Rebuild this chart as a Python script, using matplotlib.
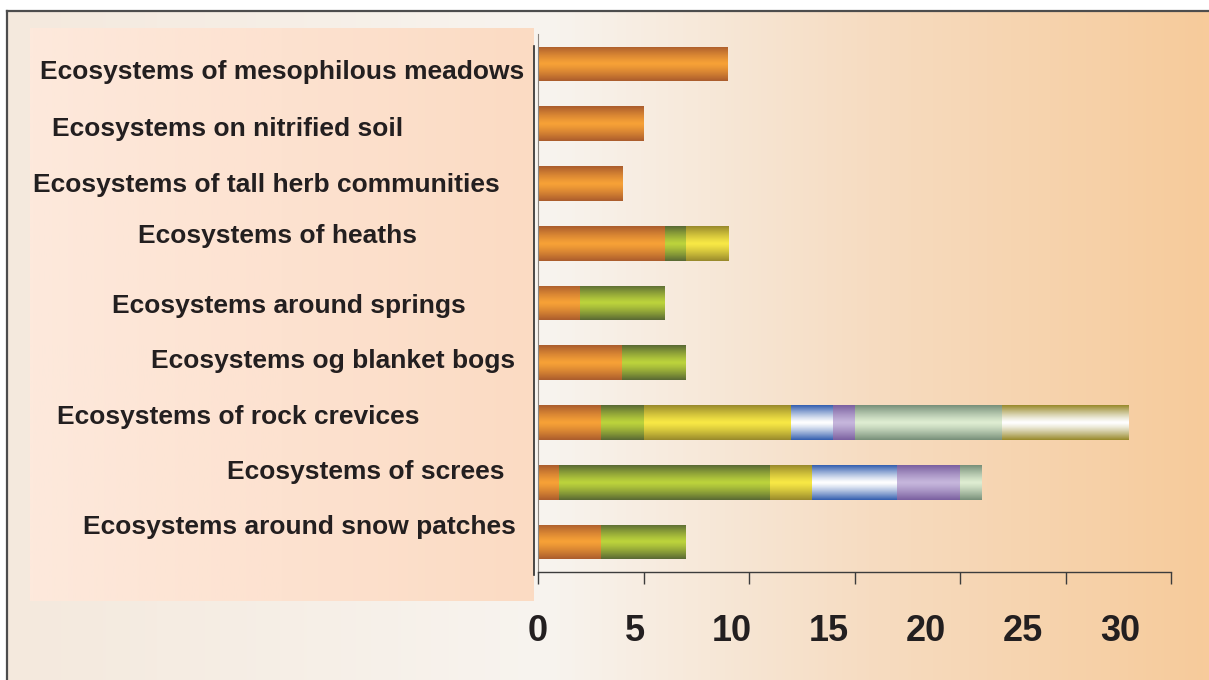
import matplotlib
matplotlib.use("Agg")
import matplotlib.pyplot as plt
import numpy as np
from matplotlib.colors import to_rgb, LinearSegmentedColormap
from matplotlib.lines import Line2D

plt.rcParams['font.family'] = ['Liberation Sans', 'DejaVu Sans']

# categories, top to bottom as in the picture
categories = ["Ecosystems of mesophilous meadows",
              "Ecosystems on nitrified soil",
              "Ecosystems of tall herb communities",
              "Ecosystems of heaths",
              "Ecosystems around springs",
              "Ecosystems og blanket bogs",
              "Ecosystems of rock crevices",
              "Ecosystems of screes",
              "Ecosystems around snow patches"]

s_orange = [9, 5, 4, 6, 2, 4, 3, 1, 3]
s_green  = [0, 0, 0, 1, 4, 3, 2, 10, 4]
s_yellow = [0, 0, 0, 2, 0, 0, 7, 2, 0]
s_blue   = [0, 0, 0, 0, 0, 0, 2, 4, 0]
s_purple = [0, 0, 0, 0, 0, 0, 1, 3, 0]
s_mint   = [0, 0, 0, 0, 0, 0, 7, 1, 0]
s_white  = [0, 0, 0, 0, 0, 0, 6, 0, 0]
series = [s_orange, s_green, s_yellow, s_blue, s_purple, s_mint, s_white]

xticks = [0, 5, 10, 15, 20, 25, 30]

# (edge colour, centre colour) for the shaded bars
shades = [("#ab5d2d", "#f7a137"),
          ("#5a6a34", "#bcd33c"),
          ("#998a2c", "#f8e845"),
          ("#3560b0", "#ffffff"),
          ("#7a60a0", "#c6b6dc"),
          ("#78907a", "#deedd2"),
          ("#998a2c", "#ffffff")]

# label placement in pixels (left edge, vertical centre) - the labels are not aligned in the original
label_px = [(40, 72), (52, 129), (33, 185), (138, 236), (112, 306),
            (151, 361), (57, 417), (227, 472), (83, 527)]

W, H = 1209, 680
fig = plt.figure(figsize=(W / 100, H / 100), dpi=100)
fig.patch.set_facecolor("white")

# background gradient inside the frame
bg = fig.add_axes([0, 0, 1, 1], zorder=-10)
bg_cmap = LinearSegmentedColormap.from_list(
    "bg", [(0, "#f4e9dd"), (0.45, "#f8f4ef"), (0.72, "#f6dcc1"), (1, "#f7cb9b")])
bg.imshow(np.linspace(0, 1, 400)[None, :], cmap=bg_cmap, aspect="auto",
          extent=(7 / W, 1, 0, 1 - 11 / H))
# frame lines (top and left only visible)
bg.add_line(Line2D([7 / W, 1], [1 - 11 / H, 1 - 11 / H], color="#4d4d4d", lw=1.6))
bg.add_line(Line2D([7 / W, 7 / W], [0, 1 - 11 / H], color="#4d4d4d", lw=1.6))

# label panel
panel_cmap = LinearSegmentedColormap.from_list("panel", ["#fde9dc", "#fde2d0", "#fbdbc3"])
bg.imshow(np.linspace(0, 1, 300)[None, :], cmap=panel_cmap, aspect="auto",
          extent=(30 / W, 534 / W, 1 - 601 / H, 1 - 28 / H))
bg.add_line(Line2D([534 / W, 534 / W], [1 - 575 / H, 1 - 46 / H], color="#2b2b2b", lw=1.2))
bg.set_xlim(0, 1)
bg.set_ylim(0, 1)
bg.axis("off")

ax = fig.add_axes([538 / W, 1 - 572 / H, (1171 - 538) / W, (572 - 34) / H])
ax.patch.set_alpha(0)

y = np.arange(len(categories))[::-1]
bar_h = 0.58
left = np.zeros(len(categories))
for vals, (c_edge, c_mid) in zip(series, shades):
    vals = np.array(vals, dtype=float)
    bars = ax.barh(y, vals, left=left, height=bar_h, color=c_mid, linewidth=0)
    t = np.abs(np.linspace(-1, 1, 60)) ** 1.25
    grad = (1 - t)[:, None] * np.array(to_rgb(c_mid)) + t[:, None] * np.array(to_rgb(c_edge))
    for b in bars:
        if b.get_width() <= 0:
            continue
        x0, y0 = b.get_x(), b.get_y()
        im = ax.imshow(grad[:, None, :], aspect="auto", interpolation="bilinear",
                       extent=(x0, x0 + b.get_width(), y0, y0 + b.get_height()), zorder=2)
        im.set_clip_path(b)
    left += vals

ax.set_xlim(0, 30)
ax.set_ylim(-0.5, 8.5)
ax.set_yticks([])
ax.set_xticks(xticks)
ax.set_xticklabels([])
ax.tick_params(axis="x", direction="out", length=8.5, width=1.0, color="#3c3c3c")
for s in ["top", "right"]:
    ax.spines[s].set_visible(False)
ax.spines["bottom"].set_color("#3c3c3c")
ax.spines["left"].set_color("#8a8580")
ax.spines["bottom"].set_linewidth(1.0)

# tick labels sit slightly off the ticks in the original
for v in xticks:
    ax.text(v * 0.92, -0.11, str(v), transform=ax.get_xaxis_transform(),
            ha="center", va="center", fontsize=26, fontweight="bold", color="#231f20")

for name, (px, py) in zip(categories, label_px):
    fig.text(px / W, 1 - py / H, name, ha="left", va="center",
             fontsize=19, fontweight="bold", color="#231f20")

fig.savefig("out.png", dpi=100)
